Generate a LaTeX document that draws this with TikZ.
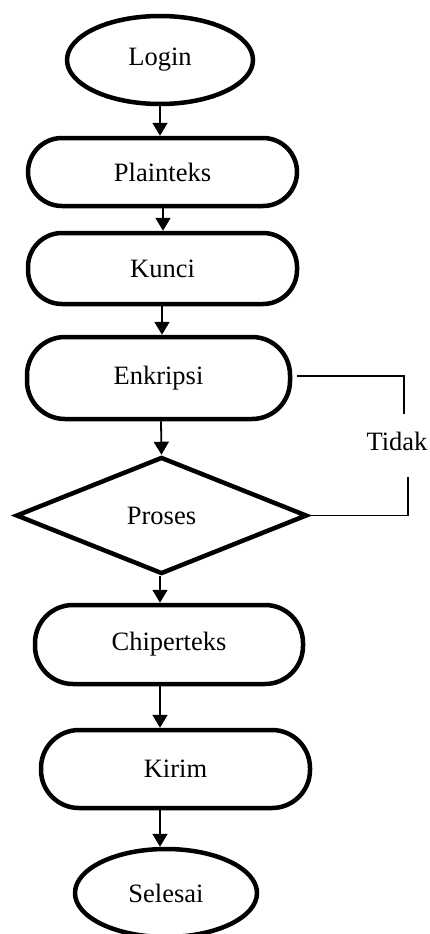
\documentclass[tikz,border=0pt]{standalone}
\usepackage{fontspec}
\setmainfont{Liberation Serif}
\usetikzlibrary{shapes.geometric,arrows.meta}
\begin{document}
\begin{tikzpicture}[x=1pt,y=-1pt,
  every node/.style={font=\fontsize{26.5}{30}\selectfont},
  term/.style={draw,line width=4.5pt,ellipse,inner sep=0pt},
  proc/.style={draw,line width=4.5pt,rectangle,rounded corners=34pt,inner sep=0pt},
  dec/.style={draw,line width=4.5pt,diamond,inner sep=0pt,aspect=2.49,minimum width=291pt,minimum height=117pt},
  arr/.style={line width=1.8pt,-{Triangle[width=15pt,length=13pt]}},
  thin/.style={line width=1.8pt}]
\useasboundingbox (0,0) rectangle (430,934);
\node[term,minimum width=186pt,minimum height=88pt] (login) at (160,60) {Login};
\node[proc,minimum width=269pt,minimum height=68pt] (plain) at (162.5,172) {Plainteks};
\node[proc,minimum width=269pt,minimum height=71pt] (kunci) at (162.5,268.5) {Kunci};
\node[proc,minimum width=263pt,minimum height=82pt,rounded corners=38pt] (enk) at (158.5,378) {Enkripsi};
\node[dec] (proses) at (161.5,515.5) {Proses};
\node[proc,minimum width=268pt,minimum height=79pt,rounded corners=38pt] (chip) at (169,644.5) {Chiperteks};
\node[proc,minimum width=269pt,minimum height=78pt,rounded corners=38pt] (kirim) at (175.5,769) {Kirim};
\node[term,minimum width=182pt,minimum height=88pt] (selesai) at (166,893) {Selesai};
\node (tidak) at (397,441) {Tidak};
\coordinate (a1) at (160,0);
\coordinate (a2) at (163,0);
\coordinate (a3) at (162,0);
\coordinate (a4) at (161,0);
\coordinate (a5) at (160,0);
\coordinate (l1) at (297,376);
\coordinate (l2) at (404,376);
\coordinate (l3) at (404,414);
\coordinate (l4) at (408,477);
\coordinate (l5) at (408,515.5);
\draw[arr] (a1 |- login.south) -- (a1 |- plain.north);
\draw[arr] (a2 |- plain.south) -- (a2 |- kunci.north);
\draw[arr] (a3 |- kunci.south) -- (a3 |- enk.north);
\draw[arr] (a4 |- enk.south) -- (proses.north);
\draw[arr] (a5 |- proses.south) -- (a5 |- chip.north);
\draw[arr] (a5 |- chip.south) -- (a5 |- kirim.north);
\draw[arr] (a5 |- kirim.south) -- (a5 |- selesai.north);
\draw[thin] (l1) -- (l2) -- (l3);
\draw[thin] (l4) -- (l5) -- (proses.east);
\end{tikzpicture}
\end{document}
